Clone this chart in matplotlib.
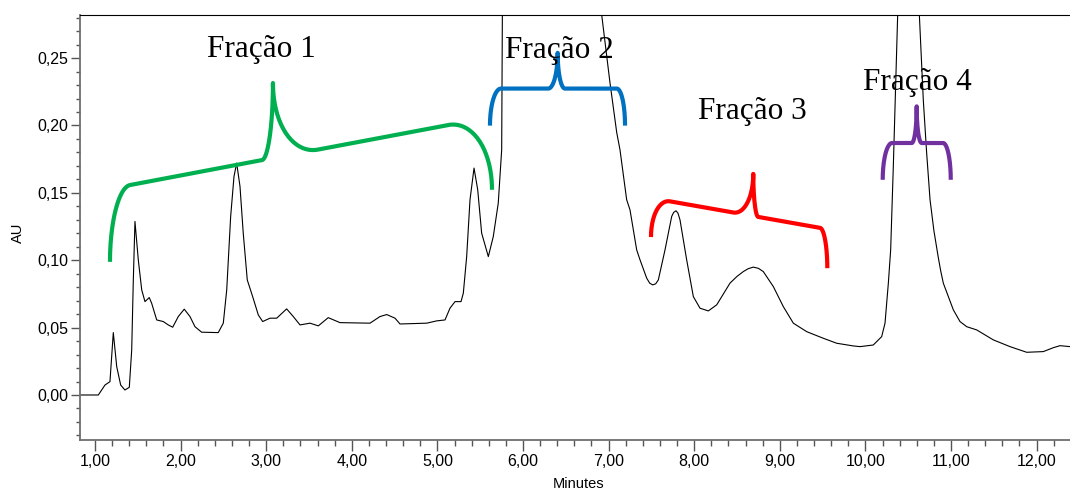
import numpy as np
import matplotlib
matplotlib.use('Agg')
import matplotlib.pyplot as plt
from matplotlib.ticker import MultipleLocator, FuncFormatter

# chromatogram trace (minutes, AU)
minutes = [0.825, 1.039, 1.117, 1.175, 1.214, 1.254, 1.300, 1.350, 1.401, 1.429,
           1.447, 1.467, 1.506, 1.546, 1.584, 1.634, 1.662, 1.721, 1.798, 1.856,
           1.908, 1.973, 2.043, 2.110, 2.168, 2.246, 2.440, 2.499, 2.539, 2.585,
           2.624, 2.655, 2.694, 2.732, 2.779, 2.842, 2.908, 2.959, 3.044, 3.123,
           3.239, 3.317, 3.395, 3.512, 3.609, 3.725, 3.862, 4.213, 4.329, 4.408,
           4.505, 4.563, 4.875, 4.992, 5.089, 5.147, 5.206, 5.276, 5.303, 5.342,
           5.381, 5.428, 5.471, 5.517, 5.595, 5.653, 5.711, 5.751, 5.758, 5.772,
           6.315, 6.876, 6.919, 7.016, 7.095, 7.133, 7.211, 7.250, 7.328, 7.367,
           7.445, 7.480, 7.515, 7.550, 7.581, 7.659, 7.737, 7.760, 7.787, 7.810,
           7.834, 7.912, 7.990, 8.068, 8.165, 8.263, 8.418, 8.500, 8.574, 8.630,
           8.690, 8.750, 8.807, 8.924, 9.041, 9.158, 9.314, 9.508, 9.665, 9.859,
           9.937, 10.092, 10.190, 10.229, 10.268, 10.295, 10.326, 10.377, 10.393, 10.498,
           10.609, 10.630, 10.676, 10.715, 10.755, 10.800, 10.852, 10.880, 10.910, 11.027,
           11.105, 11.183, 11.300, 11.494, 11.689, 11.884, 12.078, 12.195, 12.273, 12.390]
au = [0.0, 0.0, 0.0074, 0.0099, 0.0463, 0.0210, 0.0074, 0.0037, 0.0057, 0.0334,
      0.0832, 0.1288, 0.1003, 0.0780, 0.0693, 0.0723, 0.0681, 0.0557, 0.0545, 0.0520,
      0.0503, 0.0582, 0.0637, 0.0582, 0.0507, 0.0466, 0.0463, 0.0533, 0.0780, 0.1325,
      0.1622, 0.1721, 0.1548, 0.1201, 0.0854, 0.0730, 0.0594, 0.0545, 0.0570, 0.0570,
      0.0639, 0.0582, 0.0520, 0.0533, 0.0513, 0.0574, 0.0537, 0.0533, 0.0582, 0.0597,
      0.0570, 0.0527, 0.0533, 0.0550, 0.0557, 0.0644, 0.0693, 0.0693, 0.0756, 0.1027,
      0.1449, 0.1684, 0.1523, 0.1201, 0.1027, 0.1176, 0.1424, 0.1820, 0.2823, 0.3678,
      0.7392, 0.3678, 0.2823, 0.2318, 0.1947, 0.1820, 0.1449, 0.1374, 0.1077, 0.1003,
      0.0867, 0.0830, 0.0817, 0.0825, 0.0854, 0.1077, 0.1325, 0.1355, 0.1367, 0.1350,
      0.1300, 0.1003, 0.0730, 0.0644, 0.0624, 0.0669, 0.0830, 0.0880, 0.0916, 0.0937,
      0.0949, 0.0940, 0.0916, 0.0805, 0.0656, 0.0533, 0.0470, 0.0421, 0.0384, 0.0364,
      0.0359, 0.0371, 0.0433, 0.0533, 0.0830, 0.1077, 0.1696, 0.2823, 0.3678, 0.5163,
      0.3380, 0.2823, 0.2192, 0.1800, 0.1449, 0.1220, 0.1018, 0.0920, 0.0830, 0.0632,
      0.0545, 0.0507, 0.0483, 0.0409, 0.0359, 0.0317, 0.0322, 0.0351, 0.0366, 0.0359]

# fraction labels and braces
frac_labels = ['Fração 1', 'Fração 2', 'Fração 3', 'Fração 4']
label_x = [2.939, 6.421, 8.675, 10.611]
label_y = [0.2511, 0.2501, 0.205, 0.2266]
brace_colors = ['#00B050', '#0070C0', '#FF0000', '#7030A0']
# xl, yl, xr, yr, bar height, tip x, tip height, tip widths (l, r), corner widths (l, r)
brace_specs = [
    (1.175, 0.0988, 5.638, 0.1523, 0.0542, 3.079, 0.0557, 0.128, 0.526, 0.234, 0.514),
    (5.614, 0.1999, 7.192, 0.1999, 0.0275, 6.405, 0.0265, 0.110, 0.085, 0.129, 0.097),
    (7.495, 0.1172, 9.555, 0.0941, 0.0290, 8.690, 0.0313, 0.234, 0.058, 0.222, 0.085),
    (10.202, 0.1597, 10.997, 0.1597, 0.0273, 10.599, 0.0272, 0.058, 0.058, 0.110, 0.090),
]


def draw_brace(ax, spec, color):
    xl, yl, xr, yr, h, xt, t, wl, wr, rl, rr = spec
    th = np.linspace(0, np.pi / 2, 40)
    x = np.concatenate([xl + rl * (1 - np.cos(th)),
                        xt - wl + wl * np.sin(th),
                        xt + wr * (1 - np.cos(th)),
                        xr - rr + rr * np.sin(th)])
    v = np.concatenate([h * np.sin(th),
                        h + t * (1 - np.cos(th)),
                        h + t * (1 - np.sin(th)),
                        h * np.cos(th)])
    base = yl + (yr - yl) * (x - xl) / (xr - xl)
    ax.plot(x, base + v, color=color, lw=3, solid_capstyle='butt',
            solid_joinstyle='round')


fig = plt.figure(figsize=(10.7, 4.92), dpi=100)
ax = fig.add_axes([80 / 1070, 1 - 440 / 492, 990 / 1070, 425 / 492])

ax.plot(minutes, au, color='black', lw=0.8)
for spec, c in zip(brace_specs, brace_colors):
    draw_brace(ax, spec, c)
for lab, x, y in zip(frac_labels, label_x, label_y):
    ax.text(x, y, lab, ha='center', va='baseline', fontsize=22.5,
            family='Liberation Serif')

ax.set_xlim(0.825, 12.39)
ax.set_ylim(-0.0334, 0.282)

ax.xaxis.set_major_locator(MultipleLocator(1))
ax.xaxis.set_minor_locator(MultipleLocator(0.2))
ax.yaxis.set_major_locator(MultipleLocator(0.05))
ax.yaxis.set_minor_locator(MultipleLocator(0.01))
fmt = FuncFormatter(lambda v, p: f'{v:.2f}'.replace('.', ',').replace('-0,00', '0,00'))
ax.xaxis.set_major_formatter(fmt)
ax.yaxis.set_major_formatter(fmt)

ax.tick_params(which='major', length=8, width=1, color='#555555', pad=2,
               labelsize=11.5, labelfontfamily='Liberation Sans')
ax.tick_params(which='minor', length=4, width=1, color='#555555')
ax.tick_params(axis='y', which='major', length=6.5)
ax.tick_params(axis='y', which='minor', length=3.2)

for s in ('left', 'bottom'):
    ax.spines[s].set_color('#6e6e6e')
    ax.spines[s].set_linewidth(1.3)
ax.spines['top'].set_color('black')
ax.spines['top'].set_linewidth(0.8)
ax.spines['right'].set_visible(False)

fig.text(18 / 1070, 1 - 233 / 492, 'AU', rotation=90, ha='center', va='center',
         fontsize=10.5, family='Liberation Sans')
fig.text(579 / 1070, 1 - 477 / 492, 'Minutes', ha='center', va='top',
         fontsize=10.5, family='Liberation Sans')

fig.savefig('out.png', dpi=100)
